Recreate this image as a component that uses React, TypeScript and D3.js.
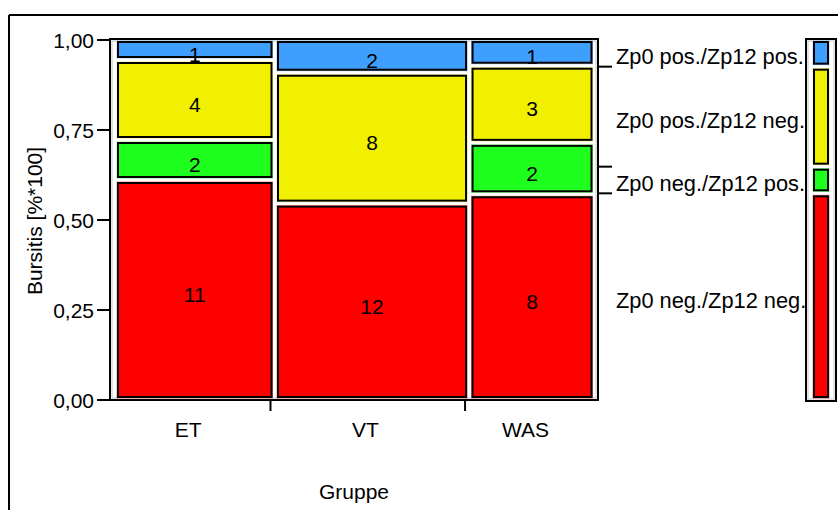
import React from "react";
import * as d3 from "d3";

// Mosaic of Bursitis outcome by group (counts per cell)
const groups = ["ET", "VT", "WAS"];
// outcome levels, stacked bottom to top
const levels = [
  "Zp0 neg./Zp12 neg.",
  "Zp0 neg./Zp12 pos.",
  "Zp0 pos./Zp12 neg.",
  "Zp0 pos./Zp12 pos.",
];
const negNeg = [11, 12, 8];
const negPos = [2, 0, 2];
const posNeg = [4, 8, 3];
const posPos = [1, 2, 1];
const levelColors = ["#ff0000", "#1eff1e", "#f0f000", "#3f9fff"];
const yTickValues = [0, 0.25, 0.5, 0.75, 1];
const xTitle = "Gruppe";
const yTitle = "Bursitis [%*100]";

const W = 838;
const H = 510;
const FONT = "'Liberation Sans', Arial, sans-serif";
const FS = 21;

const frame = { left: 110, top: 39, right: 598, bottom: 400 };
const cellLeft = 117;
const cellRight = 592.5;
const colGap = 4.5;
const rowGap = 4;
const legendBox = { left: 806, right: 836 };
const legendCell = { left: 813, right: 829 };

const commaFmt = d3.formatLocale({
  decimal: ",",
  thousands: ".",
  grouping: [3],
  currency: ["", ""],
}).format(".2f");

export default function App() {
  const series = [negNeg, negPos, posNeg, posPos];
  const colTotals = groups.map((_, i) => d3.sum(series, (s) => s[i]));
  const grand = d3.sum(colTotals);

  const y = d3.scaleLinear().domain([0, 1]).range([400, 40]);
  const w = d3
    .scaleLinear()
    .domain([0, grand])
    .range([0, cellRight - cellLeft - colGap * (groups.length - 1)]);

  // column extents
  const cols: { x0: number; x1: number }[] = [];
  let cx = cellLeft;
  colTotals.forEach((t) => {
    const x1 = cx + w(t);
    cols.push({ x0: cx, x1 });
    cx = x1 + colGap;
  });

  const cellBox = (lo: number, hi: number) => {
    const top = hi >= 1 ? y(1) + 1 : y(hi) + rowGap / 2;
    const bot = lo <= 0 ? y(0) - 2 : y(lo) - rowGap / 2;
    return { top, bot };
  };

  type Cell = { x0: number; x1: number; top: number; bot: number; color: string; n: number };
  const cells: Cell[] = [];
  groups.forEach((_, gi) => {
    let cum = 0;
    series.forEach((s, li) => {
      const n = s[gi];
      const lo = cum / colTotals[gi];
      cum += n;
      const hi = cum / colTotals[gi];
      if (n === 0) return;
      const { top, bot } = cellBox(lo, hi);
      cells.push({ x0: cols[gi].x0, x1: cols[gi].x1, top, bot, color: levelColors[li], n });
    });
  });

  // marginal distribution for legend bar and right axis
  const levelTotals = series.map((s) => d3.sum(s));
  const margins: { lo: number; hi: number }[] = [];
  let mc = 0;
  levelTotals.forEach((t) => {
    const lo = mc / grand;
    mc += t;
    margins.push({ lo, hi: mc / grand });
  });

  const drawCell = (x0: number, x1: number, top: number, bot: number, color: string, key: string) => (
    <g key={key}>
      <rect x={x0 - 0.5} y={top - 0.5} width={x1 - x0 + 1} height={bot - top + 1} fill={color} opacity={0.5} />
      <rect x={x0 + 1} y={top + 1} width={x1 - x0 - 2} height={bot - top - 2} fill={color} stroke="#000" strokeWidth={2} />
    </g>
  );

  return (
    <svg
      width={W}
      height={H}
      style={{ position: "absolute", left: 0, top: 0, background: "#fff" }}
      fontFamily={FONT}
      fontSize={FS}
    >
      {/* outer report frame */}
      <line x1={9} y1={15} x2={W} y2={15} stroke="#000" strokeWidth={2} />
      <line x1={9} y1={15} x2={9} y2={H} stroke="#000" strokeWidth={2} />

      {/* legend labels (drawn before legend box so the box trims overflow) */}
      {levels.map((lab, i) => (
        <text key={lab} x={616} y={y((margins[i].lo + margins[i].hi) / 2) + 11} fill="#000" fontSize={21.8}>
          {lab}
        </text>
      ))}

      {/* plot frame */}
      <rect x={frame.left} y={frame.top} width={frame.right - frame.left} height={frame.bottom - frame.top} fill="none" stroke="#000" strokeWidth={2} />
      <rect x={frame.left + 2} y={frame.top + 2} width={frame.right - frame.left - 4} height={frame.bottom - frame.top - 4} fill="none" stroke="#c8c8c8" strokeWidth={1} />

      {/* mosaic cells */}
      {cells.map((c, i) => drawCell(c.x0, c.x1, c.top, c.bot, c.color, `c${i}`))}
      {cells.map((c, i) => (
        <text key={`t${i}`} x={(c.x0 + c.x1) / 2} y={(c.top + c.bot) / 2 + 12} textAnchor="middle" fill="#000">
          {c.n}
        </text>
      ))}

      {/* left axis */}
      {yTickValues.map((v) => (
        <g key={`y${v}`}>
          <line x1={97} x2={frame.left} y1={y(v)} y2={y(v)} stroke="#000" strokeWidth={2} />
          <text x={94} y={y(v) + 7.5} textAnchor="end" fill="#000">
            {commaFmt(v)}
          </text>
        </g>
      ))}
      <text x={42} y={221} transform="rotate(-90, 42, 221)" textAnchor="middle" fill="#000">
        {yTitle}
      </text>

      {/* bottom axis: ticks between groups */}
      {cols.slice(0, -1).map((c, i) => (
        <line key={`xt${i}`} x1={c.x1 - 2} x2={c.x1 - 2} y1={frame.bottom} y2={411} stroke="#000" strokeWidth={2} />
      ))}
      {groups.map((g, i) => (
        <text key={g} x={(cols[i].x0 + cols[i].x1) / 2 - 6.5} y={437} textAnchor="middle" fill="#000">
          {g}
        </text>
      ))}
      <text x={(frame.left + frame.right) / 2} y={499} textAnchor="middle" fill="#000">
        {xTitle}
      </text>

      {/* right axis: marginal boundaries */}
      {margins.slice(0, -1).map((m, i) => (
        <line key={`rt${i}`} x1={frame.right} x2={612} y1={y(m.hi)} y2={y(m.hi)} stroke="#000" strokeWidth={2} />
      ))}

      {/* marginal legend bar */}
      <rect x={legendBox.left} y={frame.top} width={legendBox.right - legendBox.left} height={frame.bottom - frame.top + 1} fill="#fff" stroke="#000" strokeWidth={2} />
      <rect x={legendBox.left + 2} y={frame.top + 2} width={legendBox.right - legendBox.left - 4} height={frame.bottom - frame.top - 3} fill="none" stroke="#c8c8c8" strokeWidth={1} />
      {margins.map((m, i) => {
        const { top, bot } = cellBox(m.lo, m.hi);
        return drawCell(legendCell.left, legendCell.right, top, bot, levelColors[i], `m${i}`);
      })}
    </svg>
  );
}
